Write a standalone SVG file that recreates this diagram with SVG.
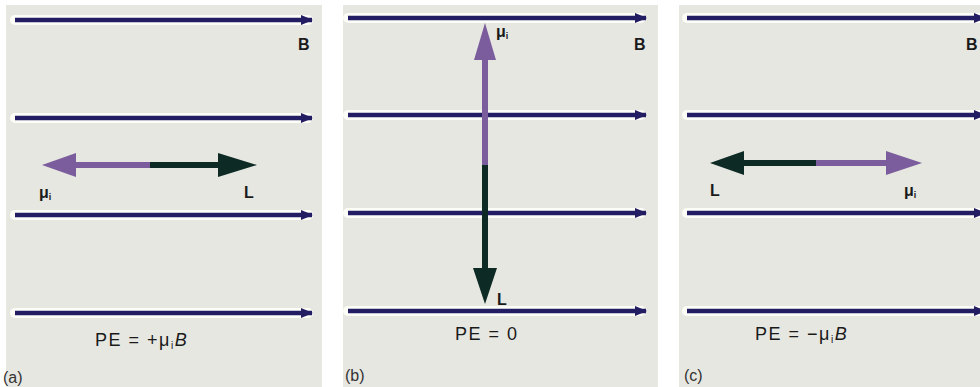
<svg xmlns="http://www.w3.org/2000/svg" width="980" height="387" viewBox="0 0 980 387">
<style>
.panel{fill:#e7e7e2}
.glow{stroke:#fdfdf8;stroke-width:10;stroke-linecap:round;fill:none}
.field{stroke:#231d63;stroke-width:4.5;fill:none}
.fhead{fill:#231d63}
.pur{fill:#7b5c9c}
.grn{fill:#0d2a25}
.lbl{font-family:"Liberation Sans",Arial,sans-serif;font-weight:bold;font-size:16px;fill:#1a1a1a}
.pe{font-family:"Liberation Sans",Arial,sans-serif;font-size:18px;letter-spacing:1.5px;fill:#1a1a1a}
.tag{font-family:"Liberation Sans",Arial,sans-serif;font-size:16px;fill:#333}
</style>
<defs>
<marker id="fa" viewBox="0 0 12 10" refX="11" refY="5" markerWidth="12" markerHeight="10" markerUnits="userSpaceOnUse" orient="auto">
<path d="M0,0 L12,5 L0,10 Z" class="fhead"/>
</marker>
</defs>
<rect width="980" height="387" fill="#ffffff"/>
<g id="panel-a">
<rect class="panel" x="6" y="5" width="316" height="382"/>
<g id="connectors-a">
<line class="glow" x1="15" y1="20" x2="308" y2="20"/>
<line class="glow" x1="15" y1="118" x2="308" y2="118"/>
<line class="glow" x1="15" y1="215" x2="308" y2="215"/>
<line class="glow" x1="15" y1="313" x2="308" y2="313"/>
<line class="field" x1="15" y1="20" x2="312" y2="20" marker-end="url(#fa)"/>
<line class="field" x1="15" y1="118" x2="312" y2="118" marker-end="url(#fa)"/>
<line class="field" x1="15" y1="215" x2="312" y2="215" marker-end="url(#fa)"/>
<line class="field" x1="15" y1="313" x2="312" y2="313" marker-end="url(#fa)"/>
</g>
<g id="moment-a">
<rect class="pur" x="70" y="162" width="80" height="6"/>
<polygon class="pur" points="42,165 76,153 76,177"/>
<rect class="grn" x="150" y="162" width="70" height="6"/>
<polygon class="grn" points="257,165 218,153 218,177"/>
</g>
<text class="lbl" x="298" y="50">B</text>
<text class="lbl" x="39" y="198">μ<tspan font-size="9" dy="2">i</tspan></text>
<text class="lbl" x="244" y="198">L</text>
<text class="pe" x="95" y="346">PE = +μ<tspan font-size="10" dy="3">i</tspan><tspan dy="-3" font-style="italic">B</tspan></text>
<text class="tag" x="3" y="383">(a)</text>
</g>
<g id="panel-b">
<rect class="panel" x="343" y="5" width="315" height="382"/>
<g id="connectors-b">
<line class="glow" x1="348" y1="18" x2="641" y2="18"/>
<line class="glow" x1="348" y1="115" x2="641" y2="115"/>
<line class="glow" x1="348" y1="213" x2="641" y2="213"/>
<line class="glow" x1="348" y1="311" x2="641" y2="311"/>
<line class="field" x1="348" y1="18" x2="646" y2="18" marker-end="url(#fa)"/>
<line class="field" x1="348" y1="115" x2="646" y2="115" marker-end="url(#fa)"/>
<line class="field" x1="348" y1="213" x2="646" y2="213" marker-end="url(#fa)"/>
<line class="field" x1="348" y1="311" x2="646" y2="311" marker-end="url(#fa)"/>
</g>
<g id="moment-b">
<rect class="pur" x="482" y="55" width="6" height="110"/>
<polygon class="pur" points="485,23 474,60 496,60"/>
<rect class="grn" x="482" y="165" width="6" height="108"/>
<polygon class="grn" points="485,304 473,268 497,268"/>
</g>
<text class="lbl" x="496" y="37">μ<tspan font-size="9" dy="2">i</tspan></text>
<text class="lbl" x="634" y="50">B</text>
<text class="lbl" x="497" y="305">L</text>
<text class="pe" x="455" y="340">PE = 0</text>
<text class="tag" x="345" y="381">(b)</text>
</g>
<g id="panel-c">
<rect class="panel" x="679" y="5" width="301" height="382"/>
<g id="connectors-c">
<line class="glow" x1="687" y1="18" x2="985" y2="18"/>
<line class="glow" x1="687" y1="115" x2="985" y2="115"/>
<line class="glow" x1="687" y1="213" x2="985" y2="213"/>
<line class="glow" x1="687" y1="311" x2="985" y2="311"/>
<line class="field" x1="687" y1="18" x2="985" y2="18" marker-end="url(#fa)"/>
<line class="field" x1="687" y1="115" x2="985" y2="115" marker-end="url(#fa)"/>
<line class="field" x1="687" y1="213" x2="985" y2="213" marker-end="url(#fa)"/>
<line class="field" x1="687" y1="311" x2="985" y2="311" marker-end="url(#fa)"/>
</g>
<g id="moment-c">
<rect class="grn" x="740" y="160" width="76" height="6"/>
<polygon class="grn" points="710,163 744,151 744,175"/>
<rect class="pur" x="816" y="160" width="72" height="6"/>
<polygon class="pur" points="922,163 886,151 886,175"/>
</g>
<text class="lbl" x="966" y="50">B</text>
<text class="lbl" x="710" y="196">L</text>
<text class="lbl" x="904" y="196">μ<tspan font-size="9" dy="2">i</tspan></text>
<text class="pe" x="755" y="340">PE = −μ<tspan font-size="10" dy="3">i</tspan><tspan dy="-3" font-style="italic">B</tspan></text>
<text class="tag" x="684" y="381">(c)</text>
</g>
</svg>
